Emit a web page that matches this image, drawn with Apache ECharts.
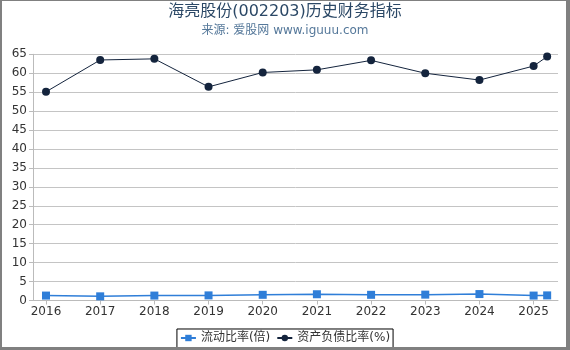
<!DOCTYPE html>
<html>
<head>
<meta charset="utf-8">
<script src="https://cdn.jsdelivr.net/npm/echarts@6/dist/echarts.min.js"></script>
<style>
html,body{margin:0;padding:0;background:#fff;}
#chart{position:absolute;left:0;top:0;width:570px;height:350px;}
#frame{position:absolute;left:0;top:0;width:570px;height:350px;box-sizing:border-box;border-style:solid;border-color:#808080;border-width:1px 4px 3px 2px;pointer-events:none;}
</style>
</head>
<body>
<div id="chart"></div>
<div id="frame"></div>
<script>
var titleText = '海亮股份(002203)历史财务指标';
var subtitleText = '来源: 爱股网 www.iguuu.com';
var yearTicks = [2016, 2017, 2018, 2019, 2020, 2021, 2022, 2023, 2024, 2025];
var xPositions = [2016, 2017, 2018, 2019, 2020, 2021, 2022, 2023, 2024, 2025, 2025.25];
var currentRatio = [1.3, 1.1, 1.3, 1.35, 1.5, 1.65, 1.5, 1.55, 1.7, 1.3, 1.35];
var debtRatio = [55.1, 63.5, 63.8, 56.4, 60.2, 60.9, 63.4, 60.0, 58.2, 61.9, 64.4];
var seriesNames = ['流动比率(倍)', '资产负债比率(%)'];

function pairs(xs, ys) { return xs.map(function (x, i) { return [x, ys[i]]; }); }

var font = 'DejaVu Sans, Noto Sans CJK SC, sans-serif';
var chart = echarts.init(document.getElementById('chart'), null, {renderer: 'canvas'});
chart.setOption({
  backgroundColor: '#fff',
  animation: false,
  title: {
    text: titleText,
    subtext: subtitleText,
    left: 'center',
    top: -1,
    itemGap: 5,
    textStyle: {fontFamily: font, fontSize: 16, fontWeight: 'normal', color: '#2b4866'},
    subtextStyle: {fontFamily: font, fontSize: 12, color: '#55789a'}
  },
  legend: {
    left: 'center',
    bottom: 2,
    padding: [3, 3, 4, 3],
    itemGap: 6,
    itemWidth: 15,
    itemHeight: 8,
    borderColor: '#000',
    borderWidth: 1,
    backgroundColor: '#fff',
    textStyle: {fontFamily: font, fontSize: 12, color: '#333'},
    data: seriesNames
  },
  grid: {left: 33, right: 12, top: 54.3, bottom: 49.5, containLabel: false},
  xAxis: {
    type: 'value',
    min: 2015.76,
    max: 2025.45,
    axisLine: {lineStyle: {color: '#bbb'}},
    axisTick: {show: true, length: 4, customValues: yearTicks, lineStyle: {color: '#bbb'}},
    axisLabel: {customValues: yearTicks, margin: 5, fontFamily: font, fontSize: 12, color: '#333',
      formatter: function (v) { return String(Math.round(v)); }},
    splitLine: {show: false}
  },
  yAxis: {
    type: 'value',
    min: 0,
    max: 65,
    interval: 5,
    axisLine: {show: true, lineStyle: {color: '#bbb'}},
    axisTick: {show: true, length: 4, lineStyle: {color: '#bbb'}},
    axisLabel: {margin: 6, fontFamily: font, fontSize: 12, color: '#333'},
    splitLine: {lineStyle: {color: '#c4c4c4'}}
  },
  series: [
    {
      name: seriesNames[0],
      type: 'line',
      data: pairs(xPositions, currentRatio),
      symbol: 'rect',
      symbolSize: 8,
      itemStyle: {color: '#2f7ed8'},
      lineStyle: {color: '#2f7ed8', width: 1.5}
    },
    {
      name: seriesNames[1],
      type: 'line',
      data: pairs(xPositions, debtRatio),
      symbol: 'circle',
      symbolSize: 8,
      itemStyle: {color: '#14243d'},
      lineStyle: {color: '#14243d', width: 1}
    }
  ]
});
</script>
</body>
</html>
